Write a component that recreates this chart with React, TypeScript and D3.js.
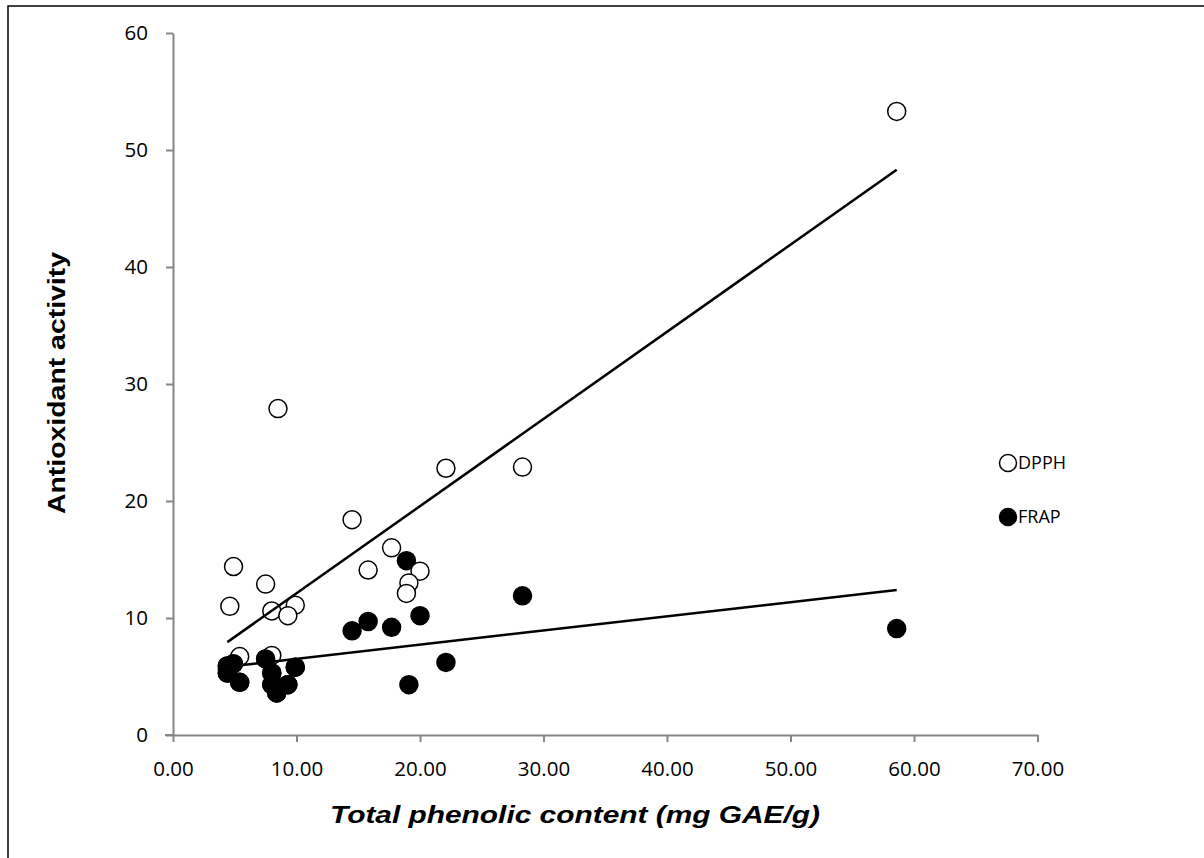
import { useRef, useEffect } from "react";
import * as d3 from "d3";

// sample values (x = total phenolic content)
const dpphX = [58.6, 28.3, 22.1, 14.5, 17.7, 15.8, 20.0, 19.1, 18.9, 4.9, 4.6, 7.5, 8.0, 9.9, 9.3, 8.5, 5.4, 8.0, 4.4];
const dpphY = [53.3, 22.9, 22.8, 18.4, 16.0, 14.1, 14.0, 13.0, 12.1, 14.4, 11.0, 12.9, 10.6, 11.1, 10.2, 27.9, 6.7, 6.8, 5.6];

const frapX = [58.6, 28.3, 22.1, 18.9, 20.0, 17.7, 15.8, 14.5, 19.1, 4.4, 4.9, 4.4, 5.4, 7.5, 8.0, 8.0, 8.4, 9.3, 9.9];
const frapY = [9.1, 11.9, 6.2, 14.9, 10.2, 9.2, 9.7, 8.9, 4.3, 5.9, 6.1, 5.3, 4.5, 6.5, 5.3, 4.3, 3.6, 4.3, 5.8];

// linear trendlines [slope, intercept] as drawn in the reference
const dpphTrend = [0.745, 4.66];
const frapTrend = [0.121, 5.3];
const trendRange = [4.4, 58.6];

const xTicks = [0, 10, 20, 30, 40, 50, 60, 70];
const yTicks = [0, 10, 20, 30, 40, 50, 60];

const seriesNames = ["DPPH", "FRAP"];

export default function App() {
  const svgRef = useRef<SVGSVGElement>(null);

  useEffect(() => {
    document.body.style.margin = "0";
    const svg = d3.select(svgRef.current);
    const width = 1204;
    const height = 858;
    svg.selectAll("*").remove();
    svg.attr("viewBox", `0 0 ${width} ${height}`);

    const tickFont = "'Open Sans', 'Liberation Sans', sans-serif";
    const titleFont = "'Liberation Sans', Arial, sans-serif";
    const axisColor = "#868686";

    svg.append("rect").attr("width", width).attr("height", height).attr("fill", "#fff");

    // outer frame (only top and left edges visible in the picture)
    svg.append("path")
      .attr("d", `M8,${height} V6 H${width}`)
      .attr("fill", "none")
      .attr("stroke", "#000")
      .attr("stroke-width", 1.5);

    const x = d3.scaleLinear().domain([0, 70]).range([173, 1037.5]);
    const y = d3.scaleLinear().domain([0, 60]).range([735, 33]);

    // X axis
    const gx = svg.append("g")
      .attr("transform", `translate(0,${y(0)})`)
      .call(d3.axisBottom(x).tickValues(xTicks).tickFormat(d => (d as number).toFixed(2)).tickSize(7).tickSizeOuter(0).tickPadding(19));
    gx.select(".domain").attr("stroke", axisColor).attr("stroke-width", 2);
    gx.selectAll(".tick line").attr("stroke", axisColor).attr("stroke-width", 2);
    gx.selectAll("text").attr("fill", "#000").attr("font-family", tickFont).attr("font-size", 20.5);

    // Y axis
    const gy = svg.append("g")
      .attr("transform", `translate(${x(0)},0)`)
      .call(d3.axisLeft(y).tickValues(yTicks).tickSize(7).tickSizeOuter(0).tickPadding(18));
    gy.select(".domain").attr("stroke", axisColor).attr("stroke-width", 2);
    gy.selectAll(".tick line").attr("stroke", axisColor).attr("stroke-width", 2);
    gy.selectAll("text").attr("fill", "#000").attr("font-family", tickFont).attr("font-size", 20.5);

    // extend x-axis line under the y tick at 0
    svg.append("line")
      .attr("x1", x(0) - 8).attr("x2", x(0))
      .attr("y1", y(0)).attr("y2", y(0))
      .attr("stroke", axisColor).attr("stroke-width", 2);

    const r = 9;

    // FRAP (filled)
    svg.append("g").selectAll("circle")
      .data(frapX.map((v, i) => [v, frapY[i]]))
      .join("circle")
      .attr("cx", d => x(d[0]))
      .attr("cy", d => y(d[1]))
      .attr("r", r)
      .attr("fill", "#000")
      .attr("stroke", "#000")
      .attr("stroke-width", 1.5);

    // DPPH (open)
    svg.append("g").selectAll("circle")
      .data(dpphX.map((v, i) => [v, dpphY[i]]))
      .join("circle")
      .attr("cx", d => x(d[0]))
      .attr("cy", d => y(d[1]))
      .attr("r", r)
      .attr("fill", "#fff")
      .attr("stroke", "#000")
      .attr("stroke-width", 1.5);

    // filled markers sit on top in the low cluster
    svg.append("g").selectAll("circle")
      .data(frapX.map((v, i) => [v, frapY[i]]).filter(d => d[0] < 11))
      .join("circle")
      .attr("cx", d => x(d[0]))
      .attr("cy", d => y(d[1]))
      .attr("r", r)
      .attr("fill", "#000")
      .attr("stroke", "#000")
      .attr("stroke-width", 1.5);

    // trendlines
    const line = d3.line<number>().x(d => x(d));
    [dpphTrend, frapTrend].forEach(t => {
      svg.append("path")
        .attr("d", line.y(d => y(t[0] * d + t[1]))(trendRange))
        .attr("fill", "none")
        .attr("stroke", "#000")
        .attr("stroke-width", 2.5);
    });

    // legend
    const legend = svg.append("g");
    seriesNames.forEach((name, i) => {
      const ly = 463 + i * 54;
      legend.append("circle")
        .attr("cx", 1008).attr("cy", ly).attr("r", 8.5)
        .attr("fill", i === 0 ? "#fff" : "#000")
        .attr("stroke", "#000").attr("stroke-width", 1.5);
      legend.append("text")
        .attr("x", 1018).attr("y", ly)
        .attr("dy", "0.36em")
        .attr("font-family", tickFont)
        .attr("font-size", 18)
        .text(name);
    });

    // axis titles
    svg.append("text")
      .attr("x", 575).attr("y", 815)
      .attr("dy", "0.35em")
      .attr("text-anchor", "middle")
      .attr("font-family", titleFont)
      .attr("font-weight", "bold")
      .attr("font-style", "italic")
      .attr("font-size", 24)
      .attr("textLength", 490)
      .attr("lengthAdjust", "spacingAndGlyphs")
      .text("Total phenolic content (mg GAE/g)");

    svg.append("text")
      .attr("transform", "translate(57,383) rotate(-90)")
      .attr("dy", "0.35em")
      .attr("text-anchor", "middle")
      .attr("font-family", titleFont)
      .attr("font-weight", "bold")
      .attr("font-size", 24)
      .attr("textLength", 262)
      .attr("lengthAdjust", "spacingAndGlyphs")
      .text("Antioxidant activity");
  }, []);

  return <svg ref={svgRef} style={{ display: "block", width: "1204px", height: "858px" }} />;
}
